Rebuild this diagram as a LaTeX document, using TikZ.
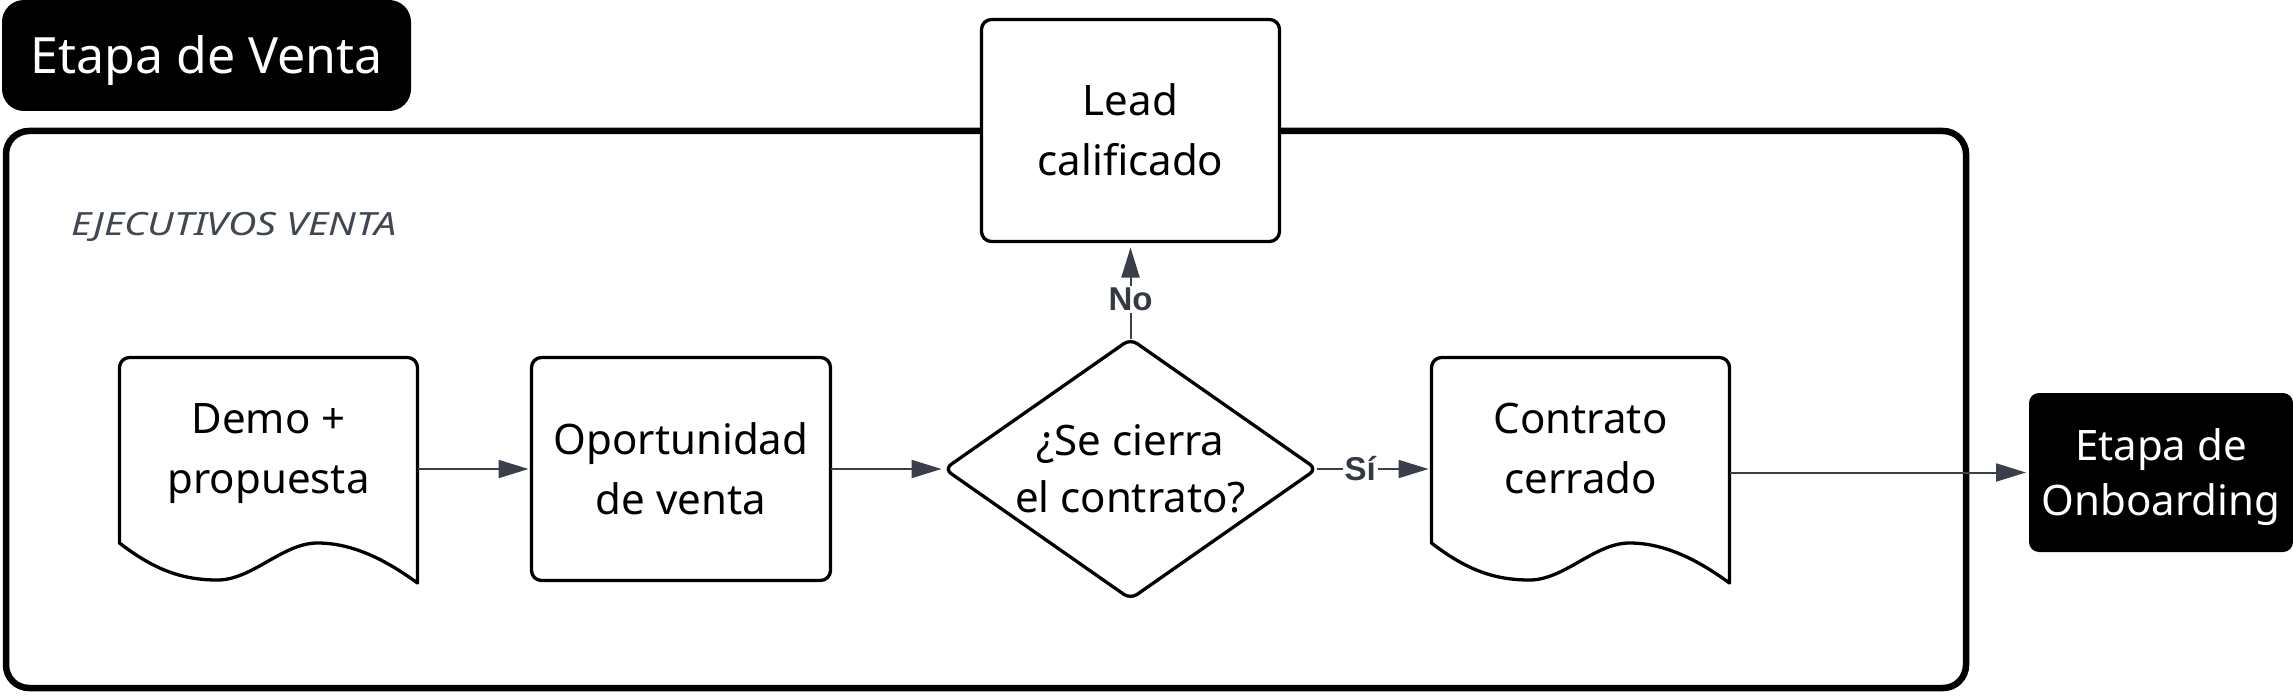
\documentclass[tikz,border=0pt]{standalone}
\usepackage{fontspec}
\setmainfont{Noto Sans}
\newfontfamily\lblfont{Liberation Sans}
\usetikzlibrary{arrows.meta,shapes.geometric}
\definecolor{linec}{RGB}{58,63,75}
\definecolor{labelc}{RGB}{52,57,68}
\definecolor{lanetext}{RGB}{64,70,82}
\newcommand{\ssx}{\rule[-15pt]{0pt}{60pt}}
\newcommand{\ssd}{\rule[-13.5pt]{0pt}{57pt}}
\newcommand{\sso}{\rule[-12.5pt]{0pt}{55pt}}
\newcommand{\sst}{\rule[-12pt]{0pt}{60pt}}
\newcommand{\docoutline}[1]{%
  \draw[docline] (#1,543) -- (#1,367.5) arc[start angle=180,end angle=270,radius=10]
    -- (#1+288,357.5) arc[start angle=270,end angle=360,radius=10]
    -- (#1+298,583)
    .. controls (#1+273,565) and (#1+238,543) .. (#1+198,543)
    .. controls (#1+163,543) and (#1+133,580) .. (#1+98,580)
    .. controls (#1+63,580) and (#1+35,570) .. cycle;}
\begin{document}
\begin{tikzpicture}[x=1pt,y=-1pt,
  every node/.style={inner sep=0pt, outer sep=0pt},
  procbox/.style={draw=black, line width=3.3pt, rounded corners=10pt, fill=white,
    minimum width=298pt, minimum height=222pt, align=center,
    font=\fontsize{42pt}{60pt}\selectfont},
  decbox/.style={diamond, draw=black, line width=3.3pt, rounded corners=8pt, fill=white,
    minimum width=372pt, minimum height=260pt},
  docgeo/.style={minimum width=298pt, minimum height=223pt},
  doctext/.style={align=center, font=\fontsize{42pt}{60pt}\selectfont},
  docline/.style={draw=black, line width=3.3pt, fill=white, line join=round},
  stagebox/.style={fill=black, text=white, align=center},
  lanebox/.style={draw=black, line width=6.5pt, rounded corners=23pt},
  arr/.style={draw=linec, line width=2pt, -{Triangle[length=30pt,width=18pt]}, shorten >=3pt},
  lbl/.style={fill=white, inner sep=2pt, text=labelc, font=\lblfont\fontsize{33pt}{38pt}\selectfont\bfseries},
]
\useasboundingbox (0,0) rectangle (2293,698);

% swimlane container
\draw[lanebox] (6,131) rectangle (1966,688);
\node[anchor=base west, text=lanetext, font=\fontsize{32pt}{36pt}\selectfont\itshape] (lane) at (71,235) {\scalebox{1.23}[1]{EJECUTIVOS VENTA}};

% stage title
\node[stagebox, rounded corners=22pt, minimum width=409pt, minimum height=111pt,
  font=\fontsize{50pt}{60pt}\selectfont] (stage) at (206.5,55.5) {\sst Etapa de Venta};

% process nodes
\node[procbox] (lead) at (1130.5,130.5) {\ssx Lead\\\ssx calificado};
\node[procbox, minimum width=299pt, minimum height=223pt] (oport) at (681,469) {\ssx Oportunidad\\\ssx de venta};
\node[decbox] (dec) at (1130.5,469) {};
\node[align=center, font=\fontsize{42pt}{57pt}\selectfont] (dectext) at (dec.center) {\ssd ¿Se cierra\\\ssd el contrato?};

% documents
\docoutline{119.5}
\node[docgeo] (demo) at (268.5,469) {};
\node[doctext] (demotext) at (268.5,448) {\ssx Demo +\\\ssx propuesta};
\docoutline{1431.5}
\node[docgeo] (contrato) at (1580.5,469) {};
\node[doctext] (contratotext) at (1580.5,448) {\ssx Contrato\\\ssx cerrado};

% next stage
\node[stagebox, rounded corners=10pt, minimum width=264pt, minimum height=159pt,
  font=\fontsize{42pt}{55pt}\selectfont] (onb) at (2161,472.5) {\sso Etapa de\\\sso Onboarding};

% connectors
\draw[arr] (demo.east) -- (oport.west);
\draw[arr] (oport.east) -- (dec.west);
\draw[arr, shorten >=6pt] (dec.north) -- node[lbl, pos=0.41] (nolbl) {No} (lead.south);
\draw[arr] (dec.east) -- node[lbl, pos=0.38] (silbl) {Sí} (contrato.west);
\draw[arr] (contrato.east |- onb.west) -- (onb.west);
\end{tikzpicture}
\end{document}
